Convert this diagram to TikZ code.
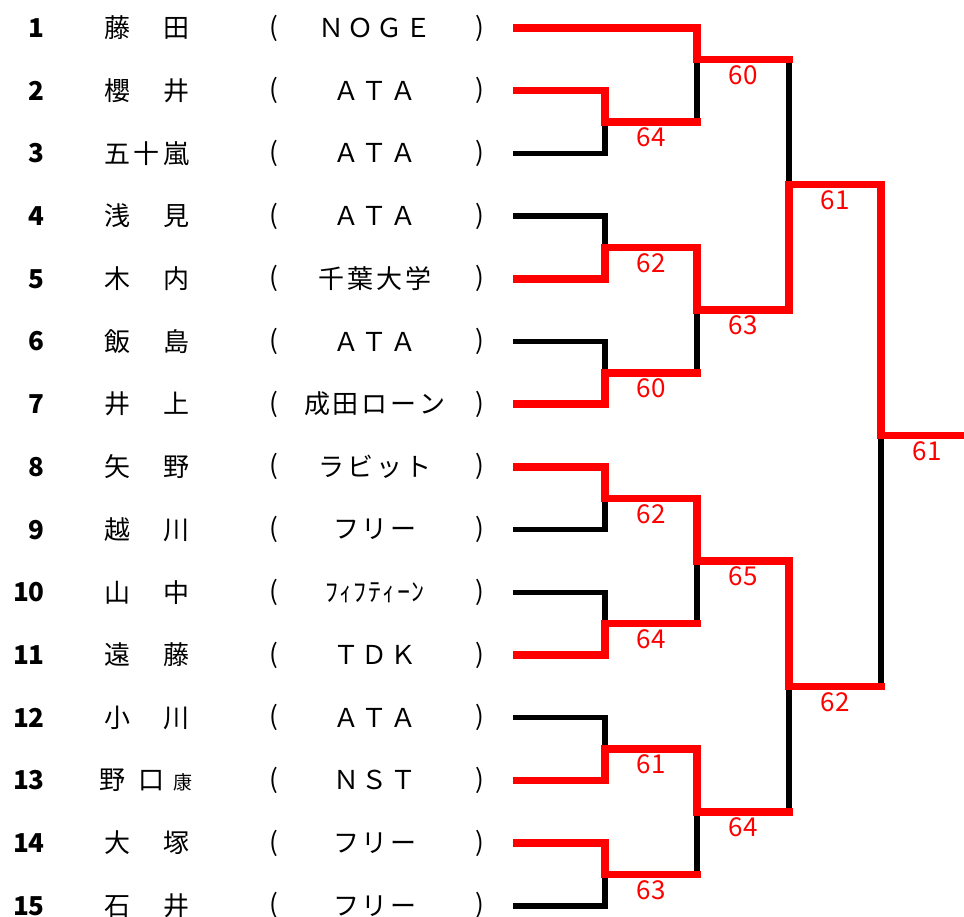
\documentclass[tikz,border=0pt]{standalone}
\usepackage{fontspec}
\setmainfont{Noto Sans CJK JP}
\newcommand\spr[2]{\def\sprw{#1}\edef\sprt{#2}\expandafter\sprA\sprt\relax}
\def\sprA#1{\ifx#1\relax\else\makebox[\sprw]{#1}\expandafter\sprA\fi}
\begin{document}
\begin{tikzpicture}[x=1pt,y=-1pt,
  redline/.style={draw=red, line width=7.5pt, line join=miter},
  blackline/.style={draw=black, line width=5.5pt, line join=miter},
  score/.style={text=red, font=\fontsize{26}{26}\selectfont, inner sep=0pt},
  num/.style={font=\fontsize{26}{26}\selectfont\bfseries, anchor=east, inner sep=0pt},
  txt/.style={font=\fontsize{26}{26}\selectfont, inner sep=0pt},
  small/.style={font=\fontsize{19}{19}\selectfont, inner sep=0pt}]
\useasboundingbox (0,0) rectangle (964,917);
% player line starts and text
\foreach \i in {1,...,15}{
  \pgfmathsetmacro\yy{28+(\i-1)*62.7}
  \coordinate (p\i) at (513,\yy);
  \node[num] (n\i) at (45,\yy) {\i};
  \node[txt] (lp\i) at (273.5,\yy) {(};
  \node[txt] (rp\i) at (480,\yy) {)};
}
\foreach \i/\nm/\cl in {1/藤　田/ＮＯＧＥ,2/櫻　井/ＡＴＡ,3/五十嵐/ＡＴＡ,4/浅　見/ＡＴＡ,5/木　内/千葉大学,6/飯　島/ＡＴＡ,7/井　上/成田ローン,8/矢　野/ラビット,9/越　川/フリー,11/遠　藤/ＴＤＫ,12/小　川/ＡＴＡ,14/大　塚/フリー,15/石　井/フリー}{
  \pgfmathsetmacro\yy{28+(\i-1)*62.7}
  \node[txt, anchor=west] (nm\i) at (102.25,\yy) {\spr{29.5pt}{\nm}};
  \node[txt] (cl\i) at (375,\yy) {\spr{29pt}{\cl}};
}
% row 10
\node[txt, anchor=west] (nm10) at (102.25,592.3) {\spr{29.5pt}{山　中}};
\node[txt] (cl10) at (375,592.3) {\spr{14.5pt}{ﾌｨﾌﾃｨｰﾝ}};
% row 13
\node[txt] (nm13a) at (112,780.4) {野};
\node[txt] (nm13b) at (151,780.4) {口};
\node[small] (nm13c) at (183,782) {康};
\node[txt] (cl13) at (375,780.4) {\spr{29pt}{ＮＳＴ}};
% junction coordinates
\coordinate (j23) at (605,122.05);   \coordinate (o23) at (697,122.05);
\coordinate (j45) at (605,247.45);   \coordinate (o45) at (697,247.45);
\coordinate (j67) at (605,372.85);   \coordinate (o67) at (697,372.85);
\coordinate (j89) at (605,498.25);   \coordinate (o89) at (697,498.25);
\coordinate (j1011) at (605,623.65); \coordinate (o1011) at (697,623.65);
\coordinate (j1213) at (605,749.05); \coordinate (o1213) at (697,749.05);
\coordinate (j1415) at (605,874.45); \coordinate (o1415) at (697,874.45);
\coordinate (qA) at (697,59.35);  \coordinate (uA) at (789,59.35);
\coordinate (qB) at (697,310.15); \coordinate (uB) at (789,310.15);
\coordinate (qC) at (697,560.95); \coordinate (uC) at (789,560.95);
\coordinate (qD) at (697,811.75); \coordinate (uD) at (789,811.75);
\coordinate (sE) at (789,184.75); \coordinate (vE) at (881,184.75);
\coordinate (sF) at (789,686.35); \coordinate (vF) at (881,686.35);
\coordinate (w) at (881,435.55);  \coordinate (fin) at (964,435.55);
% black (losers)
\draw[blackline] (p3) -| (j23);
\draw[blackline] (p4) -| (j45);
\draw[blackline] (p6) -| (j67);
\draw[blackline] (p9) -| (j89);
\draw[blackline] (p10) -| (j1011);
\draw[blackline] (p12) -| (j1213);
\draw[blackline] (p15) -| (j1415);
\draw[blackline] (qA) -- (o23);
\draw[blackline] (qB) -- (o67);
\draw[blackline] (qC) -- (o1011);
\draw[blackline] (qD) -- (o1415);
\draw[blackline] (uA) -- (sE);
\draw[blackline] (sF) -- (uD);
\draw[blackline] (w) -- (vF);
% red (winners)
\draw[redline, shorten >=-3.75pt] (p1) -| (qA) -- (uA);
\draw[redline, shorten >=-3.75pt] (p2) -| (j23) -- (o23);
\draw[redline] (p5) -| (j45) -- (o45) |- (uB) |- (vE) |- (fin);
\draw[redline, shorten >=-3.75pt] (p7) -| (j67) -- (o67);
\draw[redline, shorten >=-3.75pt] (p8) -| (j89) -- (o89) |- (uC) |- (vF);
\draw[redline, shorten >=-3.75pt] (p11) -| (j1011) -- (o1011);
\draw[redline, shorten >=-3.75pt] (p13) -| (j1213) -- (o1213) |- (uD);
\draw[redline, shorten >=-3.75pt] (p14) -| (j1415) -- (o1415);
% scores
\node[score] (s23) at (651,137.55) {64};
\node[score] (s45) at (651,262.95) {62};
\node[score] (s67) at (651,388.35) {60};
\node[score] (s89) at (651,513.75) {62};
\node[score] (s1011) at (651,639.15) {64};
\node[score] (s1213) at (651,764.55) {61};
\node[score] (s1415) at (651,889.95) {63};
\node[score] (sA) at (743,74.85) {60};
\node[score] (sB) at (743,325.65) {63};
\node[score] (sC) at (743,576.45) {65};
\node[score] (sD) at (743,827.25) {64};
\node[score] (sE2) at (835,200.25) {61};
\node[score] (sF2) at (835,701.85) {62};
\node[score] (sW) at (927,451.05) {61};
\end{tikzpicture}
\end{document}
